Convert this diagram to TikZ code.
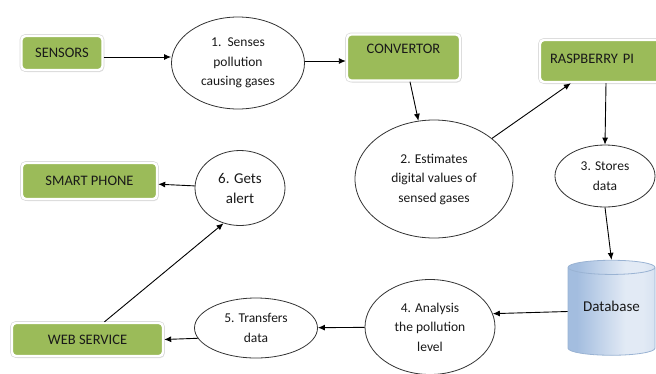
\documentclass[tikz,border=0pt]{standalone}
\usepackage{fontspec}
\setmainfont{Carlito}
\usetikzlibrary{shapes.geometric,arrows.meta,shadows}
\definecolor{boxgreen}{HTML}{9BBB59}
\definecolor{dbdark}{HTML}{A3BDDF}
\definecolor{dblight}{HTML}{E2EAF5}
\definecolor{dbmid}{HTML}{B3C8E4}
\definecolor{dbline}{HTML}{9AB3D3}
\pgfdeclarehorizontalshading{dbshade}{100bp}{color(0bp)=(dbdark); color(30bp)=(dbdark);
  color(58bp)=(dblight); color(68bp)=(dblight); color(100bp)=(dbmid)}
\tikzset{
  greenbox/.style={rectangle, rounded corners=4pt, fill=boxgreen,
    drop shadow={shadow xshift=1.5pt, shadow yshift=-2pt, fill=black!22},
    preaction={draw=black!15, line width=3.8pt},
    draw=white, line width=2.4pt, inner sep=0pt,
    font=\fontsize{14.5}{17}\selectfont, text=black!90},
  process/.style={ellipse, draw=black!80, line width=0.8pt, fill=white,
    inner sep=0pt, align=center,
    font=\fontsize{13.5}{19.5}\selectfont, text=black!90},
  flow/.style={-{Latex[length=7pt,width=6pt]}, line width=0.9pt}
}
\begin{document}
\begin{tikzpicture}[x=1pt,y=-1pt]
\useasboundingbox (0,0) rectangle (656,373);
% boxes
\node [greenbox, minimum width=81pt, minimum height=34pt] (sens) at (62,53) {SENSORS};
\node [greenbox, minimum width=113pt, minimum height=45pt, inner ysep=10pt,
  text height=9pt, text depth=17pt] (conv) at (403.5,57.5) {CONVERTOR};
\node [greenbox, minimum width=132pt, minimum height=42pt, text width=112pt,
  align=left, text depth=5pt] (rasp) at (606,61) {RASPBERRY PI};
\node [greenbox, minimum width=135pt, minimum height=36pt] (phone) at (89.5,181) {SMART PHONE};
\node [greenbox, minimum width=151pt, minimum height=33pt] (web) at (87.5,339.5) {WEB SERVICE};
% steps
\node [process, minimum width=133pt, minimum height=92pt] (sense) at (238,63) {1.~~Senses\\pollution\\causing gases};
\node [process, minimum width=158pt, minimum height=118pt] (estim) at (434,179) {2. Estimates\\digital values of\\sensed gases};
\node [process, minimum width=100pt, minimum height=62pt] (store) at (605,176) {3. Stores\\data};
\node [process, minimum width=130pt, minimum height=95pt] (anal) at (430,327) {4. Analysis\\the pollution\\level};
\node [process, minimum width=123pt, minimum height=60pt] (trans) at (256,328) {5. Transfers\\data};
\node [process, minimum width=90pt, minimum height=75pt,
  font=\fontsize{15}{20}\selectfont] (alert) at (240,188) {6. Gets\\alert};
% database
\node [cylinder, shape border rotate=90, aspect=0.25, draw=dbline, line width=0.8pt,
  shading=dbshade, minimum width=87pt, minimum height=95pt, inner sep=0pt,
  text depth=10pt, font=\fontsize{15}{18}\selectfont, text=black!90] (db) at (611.5,311.5) {Database};
% arrows
\draw [flow] ([yshift=-4pt]sens.east) -- ([yshift=-4pt]sens.east -| sense.west);
\draw [flow] ([yshift=2pt]sense.east) -- ([yshift=2pt]sense.east -| conv.west);
\draw [flow] ([xshift=6.5pt]conv.south) -- (estim.105);
\draw [flow] (estim) -- ([xshift=32pt]rasp.south west);
\draw [flow] (rasp.south) -- (store.north);
\draw [flow] (store.south) -- (db.north);
\draw [flow] (db.west) -- (anal.12);
\draw [flow] (anal) -- (trans);
\draw [flow] (trans.190) -- (web.east);
\draw [flow] ([xshift=17pt]web.north) -- (alert.245);
\draw [flow] (alert) -- (phone);
\end{tikzpicture}
\end{document}
